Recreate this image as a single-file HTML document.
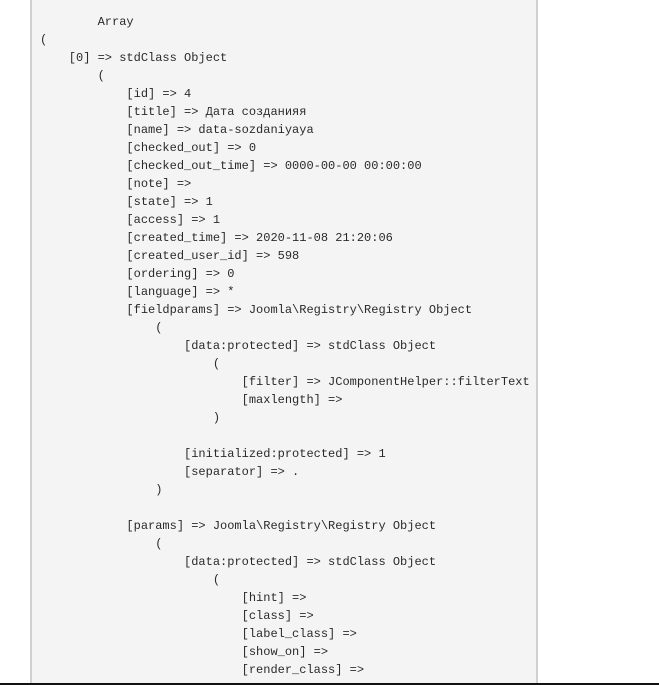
<!DOCTYPE html>
<html><head><meta charset="utf-8"><style>
html,body{margin:0;padding:0;background:#fff;width:659px;height:685px;overflow:hidden;position:relative}
.panel{position:absolute;left:30px;top:0;width:504px;height:683px;background:#f4f4f4;border-left:2px solid #d0d0d0;border-right:2px solid #d0d0d0}
pre{position:absolute;left:40px;top:13px;margin:0;font-family:"Liberation Mono","Noto Sans CJK SC",monospace;font-size:12px;line-height:18px;color:#2a2a2a}
.bar{position:absolute;left:0;top:683px;width:659px;height:2px;background:#111}
</style></head><body>
<div class="panel"></div>
<pre>        Array
(
    [0] =&gt; stdClass Object
        (
            [id] =&gt; 4
            [title] =&gt; Дата созданияя
            [name] =&gt; data-sozdaniyaya
            [checked_out] =&gt; 0
            [checked_out_time] =&gt; 0000-00-00 00:00:00
            [note] =&gt; 
            [state] =&gt; 1
            [access] =&gt; 1
            [created_time] =&gt; 2020-11-08 21:20:06
            [created_user_id] =&gt; 598
            [ordering] =&gt; 0
            [language] =&gt; *
            [fieldparams] =&gt; Joomla\Registry\Registry Object
                (
                    [data:protected] =&gt; stdClass Object
                        (
                            [filter] =&gt; JComponentHelper::filterText
                            [maxlength] =&gt; 
                        )

                    [initialized:protected] =&gt; 1
                    [separator] =&gt; .
                )

            [params] =&gt; Joomla\Registry\Registry Object
                (
                    [data:protected] =&gt; stdClass Object
                        (
                            [hint] =&gt; 
                            [class] =&gt; 
                            [label_class] =&gt; 
                            [show_on] =&gt; 
                            [render_class] =&gt; 
</pre>
<div class="bar"></div>
</body></html>
